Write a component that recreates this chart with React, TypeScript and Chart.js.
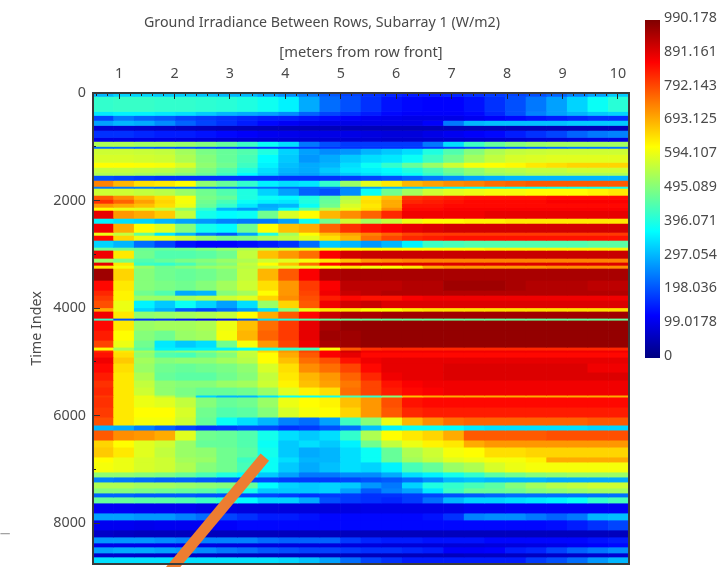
import React, { useEffect, useRef } from "react";
import { Chart, registerables } from "chart.js";
Chart.register(...registerables);

const titleText = "Ground Irradiance Between Rows, Subarray 1 (W/m2)";
const xTitleText = "[meters from row front]";
const yTitleText = "Time Index";
const xMinorTicks = [0.6,0.8,1,1.2,1.4,1.6,1.8,2,2.2,2.4,2.6,2.8,3,3.2,3.4,3.6,3.8,4,4.2,4.4,4.6,4.8,5,5.2,5.4,5.6,5.8,6,6.2,6.4,6.6,6.8,7,7.2,7.4,7.6,7.8,8,8.2,8.4,8.6,8.8,9,9.2,9.4,9.6,9.8,10,10.2];
const xMajorTicks = [1,2,3,4,5,6,7,8,9,10];
const yMinorTicks = [0,1000,2000,3000,4000,5000,6000,7000,8000];
const yMajorTicks = [0,2000,4000,6000,8000];
const colorbarTicks = [0, 99.0178, 198.036, 297.054, 396.071, 495.089, 594.107, 693.125, 792.143, 891.161, 990.178];
const colorbarRange = [0, 990.178];
const distances = [0.716,1.088,1.46,1.832,2.204,2.576,2.948,3.32,3.692,4.064,4.436,4.808,5.18,5.552,5.924,6.296,6.668,7.04,7.412,7.784,8.156,8.528,8.9,9.272,9.644,10.016];
const lastTimeIndex = 8760;
const rowStarts = [0,65,344,418,511,604,697,827,901,994,1031,1143,1291,1384,1477,1533,1626,1737,1774,1904,1979,2053,2127,2183,2332,2425,2592,2648,2741,2871,2926,3075,3149,3205,3261,3484,3670,3763,3855,3995,4060,4190,4227,4413,4599,4729,4784,4821,4915,5026,5193,5342,5472,5620,5657,5843,6029,6178,6271,6457,6587,6772,6865,7051,7144,7237,7348,7441,7515,7627,7813,7943,8129,8259,8370,8444,8556,8630];
const irradiance = [
[300,330,330,320,320,310,300,300,280,260,240,210,190,170,160,150,150,160,170,180,190,200,220,250,280,320],
[420,425,425,420,420,415,410,400,385,360,290,230,200,170,140,130,125,125,140,170,200,240,280,330,380,410],
[350,360,360,350,340,320,300,290,280,260,220,190,170,150,130,120,120,120,130,160,200,250,280,300,320,330],
[190,240,220,210,190,180,170,160,150,150,140,130,120,110,105,100,100,100,110,120,130,140,150,160,170,170],
[280,300,290,260,220,190,170,150,130,115,105,100,100,100,100,100,120,240,300,310,310,310,310,320,320,320],
[80,80,75,70,65,60,55,55,55,55,55,55,55,55,55,55,55,55,55,55,55,55,55,55,55,55],
[170,170,160,150,150,140,130,120,110,105,100,100,100,95,90,90,100,110,120,130,150,170,190,220,240,250],
[95,95,95,95,90,85,80,80,80,80,80,80,80,80,75,75,75,75,75,75,75,80,80,85,90,90],
[540,540,530,530,520,500,470,430,380,340,240,200,180,180,180,180,240,340,430,470,500,520,530,530,530,530],
[230,230,220,210,200,190,180,170,170,170,170,170,170,170,170,170,170,180,190,200,210,220,230,240,240,240],
[570,570,565,560,530,490,470,450,400,330,280,260,270,300,320,340,400,450,500,540,560,565,570,570,570,570],
[580,580,575,570,540,500,470,440,370,320,270,290,320,340,350,380,430,480,530,560,580,585,590,590,590,590],
[620,620,615,610,580,510,480,430,360,310,290,300,340,380,420,470,520,570,610,620,625,640,650,660,660,660],
[560,560,555,550,530,490,450,400,340,300,290,320,350,360,370,400,440,480,510,540,550,560,560,570,570,570],
[540,540,530,520,500,470,430,370,330,290,280,300,320,340,360,380,420,460,500,520,530,540,540,540,540,540],
[200,190,180,170,170,170,170,170,170,170,170,170,180,190,200,220,240,260,280,290,300,300,300,300,300,300],
[740,690,650,640,620,510,470,420,360,340,350,420,520,590,640,690,710,730,740,760,770,780,780,780,780,780],
[240,240,240,230,230,230,230,230,230,220,220,230,250,280,300,320,340,360,370,380,380,380,390,390,390,390],
[570,570,560,550,520,480,450,400,330,280,220,200,260,380,480,530,570,590,600,610,610,620,620,620,630,640],
[780,730,680,650,610,490,470,400,380,370,400,460,550,640,680,820,830,840,850,850,850,850,860,860,860,860],
[820,770,710,660,610,480,440,380,360,350,400,470,560,650,700,830,840,850,860,860,860,860,870,870,870,870],
[720,700,680,650,600,470,420,350,290,300,380,480,580,640,700,850,850,860,860,860,860,860,860,860,860,860],
[620,600,590,560,510,420,300,270,300,380,470,550,600,650,730,860,860,870,870,870,870,870,870,870,870,870],
[890,720,700,670,560,390,370,380,480,580,620,690,730,770,830,880,880,880,880,890,890,890,890,890,890,890],
[360,340,330,300,280,270,250,240,240,280,380,480,570,530,560,600,620,620,630,630,640,640,640,640,640,640],
[880,700,620,590,500,390,370,480,620,680,700,770,820,850,870,890,900,910,910,910,910,910,910,910,910,910],
[600,560,470,350,300,240,210,280,400,530,620,680,710,740,770,800,810,810,810,810,810,810,810,810,810,810],
[860,660,600,600,570,520,490,500,540,560,590,650,690,760,800,830,840,850,850,850,850,850,850,850,850,850],
[330,300,230,190,140,125,125,135,150,170,230,320,300,270,300,360,430,440,450,450,450,450,450,450,460,460],
[480,480,470,470,480,500,520,540,560,580,600,610,620,620,620,620,620,620,620,630,630,630,630,630,630,630],
[880,640,480,450,450,460,480,560,680,720,760,870,910,920,920,920,920,920,920,920,920,920,920,920,920,920],
[520,490,450,470,490,500,520,540,570,590,610,640,680,720,730,740,740,740,740,740,740,740,740,740,740,740],
[890,640,430,420,440,480,500,560,620,680,760,860,900,900,900,900,900,900,900,900,900,900,900,900,900,900],
[640,610,520,480,500,520,530,550,570,590,600,620,640,610,620,640,700,720,720,720,720,720,730,730,730,730],
[960,660,500,480,470,480,500,560,690,780,870,940,950,950,950,950,950,950,950,950,950,950,950,950,950,950],
[860,640,500,490,480,500,530,570,650,720,810,870,930,930,930,940,940,960,960,960,950,940,940,940,930,930],
[830,630,480,450,290,300,500,530,620,720,800,880,920,930,940,940,940,940,940,940,940,940,940,940,940,940],
[810,630,520,520,530,550,570,590,660,730,790,840,860,850,850,870,880,880,880,880,880,880,880,880,880,880],
[790,600,360,320,380,330,280,340,520,660,780,880,910,920,900,900,900,900,900,900,900,900,900,900,900,900],
[700,600,330,290,210,190,230,270,340,500,600,640,640,620,620,640,650,650,650,650,650,650,650,650,650,650],
[880,640,510,520,530,540,560,620,700,780,860,920,950,950,960,960,960,960,960,960,960,960,960,960,960,960],
[430,200,170,170,140,120,135,200,340,400,460,470,470,470,470,470,470,470,470,470,470,470,470,470,470,470],
[860,640,520,530,530,540,600,680,760,810,890,950,970,970,970,970,970,970,970,970,970,970,970,970,970,970],
[840,620,500,480,520,530,610,690,770,810,890,960,960,970,970,970,970,970,970,970,970,970,970,970,970,970],
[800,600,480,350,320,340,480,610,720,800,880,950,960,970,970,970,970,970,970,970,970,970,970,970,970,970],
[620,530,460,360,360,360,360,370,390,420,440,620,780,820,830,830,830,830,830,830,830,830,830,830,830,830],
[830,640,530,480,500,510,540,570,660,720,800,870,910,880,880,880,880,880,880,880,880,880,880,880,880,880],
[850,650,510,450,440,470,500,560,620,700,780,870,890,860,860,860,860,860,860,860,860,860,860,860,860,860],
[880,670,530,500,510,510,530,550,620,680,760,790,850,880,890,890,890,890,890,890,890,890,890,890,890,890],
[860,650,520,480,470,480,490,510,580,650,730,760,800,860,890,890,890,900,900,900,900,900,900,900,880,880],
[840,640,540,470,460,460,480,500,560,640,690,720,770,830,880,890,890,900,900,900,900,900,900,900,900,900],
[820,640,560,510,500,500,520,530,570,630,680,710,750,800,850,870,880,880,880,880,880,880,880,880,880,880],
[830,640,570,510,490,470,470,480,520,590,630,650,760,800,840,860,870,880,880,880,880,880,880,880,880,880],
[810,640,600,560,500,330,300,300,340,380,380,390,440,420,500,680,700,700,700,700,700,700,700,700,700,700],
[820,640,600,590,560,500,470,480,520,600,620,630,680,720,790,850,860,860,860,860,860,860,860,860,860,860],
[810,640,620,620,580,480,450,460,500,580,610,620,660,720,780,830,840,840,840,840,840,840,840,840,840,840],
[790,640,610,610,570,470,380,340,300,250,230,280,430,500,600,690,730,760,770,770,770,770,770,770,780,780],
[300,290,250,220,190,170,175,190,190,170,180,200,230,310,360,380,380,370,350,340,340,340,340,340,330,330],
[780,730,720,700,590,480,470,450,390,340,320,340,420,540,620,640,660,700,780,780,780,780,790,790,790,790],
[660,620,590,570,520,470,470,450,380,320,340,320,360,480,560,600,630,640,700,720,720,720,720,720,720,720],
[670,640,590,560,520,510,480,460,390,320,290,300,340,380,470,540,570,610,620,650,650,660,660,660,660,660],
[620,600,580,570,530,520,480,430,380,340,300,300,340,380,470,530,560,590,600,610,610,630,700,700,700,700],
[610,600,580,570,540,500,480,440,380,320,290,310,340,330,360,440,470,520,540,580,600,610,610,610,610,610],
[510,510,500,490,470,440,400,370,320,280,240,240,260,260,290,340,360,390,420,460,480,500,510,520,520,520],
[250,240,230,220,220,210,200,190,190,180,180,180,190,200,210,230,260,300,310,300,300,300,290,290,290,290],
[540,540,530,530,520,510,500,470,370,330,320,330,320,270,240,330,400,420,440,460,500,530,550,560,570,570],
[500,500,490,480,470,460,430,390,320,320,320,330,280,210,250,280,350,430,470,470,480,500,510,520,530,530],
[220,220,210,210,210,200,200,190,190,180,170,180,180,170,170,180,190,200,210,220,230,230,230,230,230,230],
[470,470,460,460,450,430,410,370,330,330,290,200,180,170,160,180,230,300,330,330,340,350,360,380,420,440],
[115,115,110,110,110,100,95,90,90,90,90,90,95,100,100,100,100,100,110,110,115,115,115,115,115,115],
[280,280,270,270,250,230,190,170,150,150,140,130,130,130,130,130,140,170,250,260,260,240,220,240,300,310],
[110,110,105,110,110,110,120,130,130,130,130,130,130,130,130,130,130,130,130,130,130,130,135,150,170,190],
[70,65,60,60,60,60,60,60,60,60,60,60,60,60,60,60,60,60,60,60,60,60,60,60,60,60],
[270,270,270,260,250,250,250,250,230,220,220,220,180,160,150,150,140,140,140,130,130,130,130,130,140,150],
[100,100,100,100,100,95,90,90,90,90,90,90,90,90,85,85,85,85,85,90,90,95,100,110,120,130],
[280,290,290,280,270,260,240,230,210,200,190,190,180,170,170,160,150,120,120,125,150,160,190,220,240,260],
[75,75,70,70,65,65,60,60,60,60,60,60,60,60,60,60,60,60,65,65,65,65,70,70,75,80],
[340,340,340,340,340,340,340,340,340,330,310,280,230,190,170,150,150,150,150,150,150,180,200,230,270,300],
];
const annotationLineX = [3.63, 1.78];
const annotationLineY = [6772, 9058];
const stubLineX = [-1.14, -0.97];
const stubLineY = [8197, 8197];

const jetChannel = (u: number) => Math.round(255 * Math.max(0, Math.min(1, 1.5 - Math.abs(u))));
const jetColor = (v: number) => {
  const t = v / colorbarRange[1];
  return `rgb(${jetChannel(4 * t - 3)},${jetChannel(4 * t - 2)},${jetChannel(4 * t - 1)})`;
};

const FONT = '"Noto Sans", sans-serif';
const TEXT = "#4a4a4a";
const FRAME = "#3a3a3a";
const fit = (prop: "width" | "height", size: number) => (s: any) => {
  s[prop] = size;
  s.paddingTop = 0;
  s.paddingBottom = 0;
  s.paddingLeft = 0;
  s.paddingRight = 0;
};
const useTicks = (values: number[]) => (s: any) => { s.ticks = values.map((value) => ({ value })); };

const bare = (position: string) => ({
  type: "linear",
  position,
  display: true,
  offset: false,
  grid: { display: false, drawTicks: false, offset: false },
  ticks: { display: false },
  border: { display: true, color: FRAME, width: 2, z: 2 },
  afterFit: fit(position === "left" || position === "right" ? "width" : "height", 0),
});

const titleOffset = {
  id: "titleOffset",
  afterLayout(chart: any) {
    chart.titleBlock.left = 144;
    chart.titleBlock.right = 500;
  },
};

export default function App() {
  const plotRef = useRef<HTMLCanvasElement>(null);
  const barRef = useRef<HTMLCanvasElement>(null);
  useEffect(() => {
    const rowDatasets = irradiance.map((vals, r) => ({
      type: "bar" as const,
      order: 2,
      grouped: false,
      barThickness: 20.62,
      borderWidth: 0,
      data: vals.map((_, c) => ({ x: distances[c], y: [rowStarts[r], rowStarts[r + 1] ?? lastTimeIndex] })),
      backgroundColor: vals.map(jetColor),
    }));
    const plot = new Chart(plotRef.current!, {
      type: "bar",
      data: {
        datasets: [
          {
            type: "line",
            order: 0,
            clip: false,
            data: annotationLineX.map((x, i) => ({ x, y: annotationLineY[i] })),
            borderColor: "#ED7D31",
            borderWidth: 11,
            borderCapStyle: "butt",
            pointRadius: 0,
          },
          {
            type: "line",
            order: 0,
            clip: false,
            data: stubLineX.map((x, i) => ({ x, y: stubLineY[i] })),
            borderColor: "#8a8a8a",
            borderWidth: 1,
            pointRadius: 0,
          },
          ...rowDatasets,
        ] as any,
      },
      plugins: [titleOffset],
      options: {
        animation: false,
        responsive: false,
        layout: { autoPadding: false, padding: { left: 0, right: 91, top: 0, bottom: 3 } },
        plugins: {
          legend: { display: false },
          tooltip: { enabled: false },
          title: {
            display: true,
            text: titleText,
            color: TEXT,
            font: { family: FONT, size: 14.3, weight: "normal", lineHeight: "16px" },
            padding: { top: 15, bottom: 0 },
          },
        },
        scales: {
          x: {
            type: "linear",
            position: "top",
            offset: false,
            min: 0.53,
            max: 10.2,
            weight: 1,
            title: {
              display: true,
              text: xTitleText,
              color: TEXT,
              font: { family: FONT, size: 14.7, lineHeight: "16px" },
              padding: { top: 14, bottom: 0 },
            },
            grid: { offset: false, drawOnChartArea: false, drawTicks: true, tickLength: -3, tickColor: "#222", z: 1 },
            border: { display: true, color: FRAME, width: 2, z: 2 },
            ticks: {
              autoSkip: false,
              maxRotation: 0,
              padding: 13,
              color: TEXT,
              font: { family: FONT, size: 14.3 },
              callback: (v: any) => (xMajorTicks.includes(v) ? String(v) : ""),
            },
            afterBuildTicks: useTicks(xMinorTicks),
            afterFit: fit("height", 62),
          },
          xMajor: {
            type: "linear",
            position: "top",
            offset: false,
            min: 0.53,
            max: 10.2,
            weight: 0,
            grid: { offset: false, drawOnChartArea: false, drawTicks: true, tickLength: -6, tickColor: "#222", z: 1 },
            border: { display: false },
            ticks: { autoSkip: false, display: false },
            afterBuildTicks: useTicks(xMajorTicks),
            afterFit: fit("height", 0),
          },
          y: {
            type: "linear",
            position: "left",
            reverse: true,
            min: 0,
            max: lastTimeIndex,
            weight: 1,
            title: {
              display: true,
              text: yTitleText,
              color: TEXT,
              font: { family: FONT, size: 14.3, lineHeight: "16px" },
              padding: { top: 29, bottom: 0 },
            },
            grid: { drawOnChartArea: false, drawTicks: true, tickLength: -3, tickColor: "#222", z: 1 },
            border: { display: true, color: FRAME, width: 2, z: 2 },
            ticks: {
              autoSkip: false,
              padding: 10,
              color: TEXT,
              font: { family: FONT, size: 14.3 },
              callback: (v: any) => (yMajorTicks.includes(v) ? String(v) : ""),
            },
            afterBuildTicks: useTicks(yMinorTicks),
            afterFit: fit("width", 93),
          },
          yMajor: {
            type: "linear",
            position: "left",
            reverse: true,
            min: 0,
            max: lastTimeIndex,
            weight: 0,
            grid: { drawOnChartArea: false, drawTicks: true, tickLength: -7, tickColor: "#333", z: 1 },
            border: { display: false },
            ticks: { autoSkip: false, display: false },
            afterBuildTicks: useTicks(yMajorTicks),
            afterFit: fit("width", 0),
          },
          frameRight: bare("right"),
          frameBottom: bare("bottom"),
        } as any,
      },
    });
    const bar = new Chart(barRef.current!, {
      type: "bar",
      data: {
        labels: ["W/m2"],
        datasets: [
          {
            data: [colorbarRange as any],
            barPercentage: 1,
            categoryPercentage: 1,
            borderWidth: 0,
            backgroundColor: (ctx: any) => {
              const a = ctx.chart.chartArea;
              if (!a) return "#00f";
              const g = ctx.chart.ctx.createLinearGradient(0, a.bottom, 0, a.top);
              for (let i = 0; i <= 64; i++) g.addColorStop(i / 64, jetColor((colorbarRange[1] * i) / 64));
              return g;
            },
          },
        ],
      },
      options: {
        animation: false,
        responsive: false,
        layout: { autoPadding: false, padding: { left: 25, right: 0, top: 20, bottom: 42 } },
        plugins: { legend: { display: false }, tooltip: { enabled: false } },
        scales: {
          x: { display: false },
          y: {
            type: "linear",
            position: "right",
            min: colorbarRange[0],
            max: colorbarRange[1],
            grid: { display: false, drawTicks: false },
            border: { display: false },
            ticks: {
              autoSkip: false,
              padding: 4,
              labelOffset: -2,
              color: TEXT,
              font: { family: FONT, size: 14.3 },
              callback: (v: any) => String(v),
            },
            afterBuildTicks: useTicks(colorbarTicks),
            afterFit: fit("width", 60),
          } as any,
        },
      },
    });
    return () => {
      plot.destroy();
      bar.destroy();
    };
  }, []);
  return (
    <div style={{ position: "absolute", left: 0, top: 0, width: 720, height: 567, overflow: "hidden", background: "#fff" }}>
      <canvas ref={plotRef} width={720} height={567} style={{ position: "absolute", left: 0, top: 0, filter: "blur(0.5px)" }} />
      <canvas ref={barRef} width={100} height={400} style={{ position: "absolute", left: 620, top: 0, filter: "blur(0.4px)" }} />
    </div>
  );
}
